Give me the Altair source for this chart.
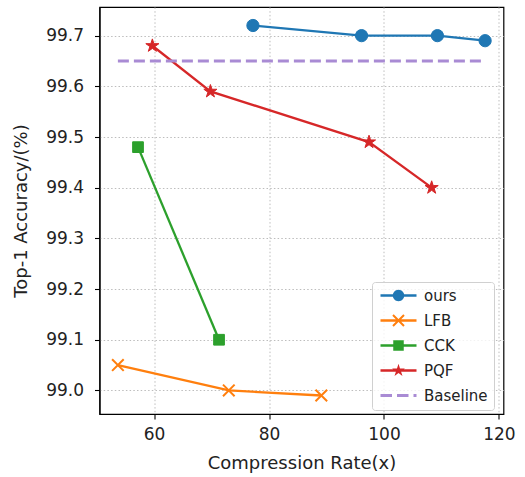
import altair as alt
import pandas as pd
import numpy as np

# ---------------- data ----------------
legend_order = ["ours", "LFB", "CCK", "PQF", "Baseline"]
colors = ["#1f77b4", "#ff7f0e", "#2ca02c", "#d62728", "#a98bd4"]

ours_x = [77.2, 96.1, 109.3, 117.6]
ours_y = [99.72, 99.70, 99.70, 99.69]
lfb_x = [53.7, 73.0, 89.1]
lfb_y = [99.05, 99.00, 98.99]
cck_x = [57.2, 71.3]
cck_y = [99.48, 99.10]
pqf_x = [59.7, 69.8, 97.4, 108.3]
pqf_y = [99.68, 99.59, 99.49, 99.40]
baseline_x = [53.7, 117.6]
baseline_y = [99.65, 99.65]

x_ticks = [60, 80, 100, 120]
y_ticks = [99.0, 99.1, 99.2, 99.3, 99.4, 99.5, 99.6, 99.7]
x_domain = [50.5, 120.8]
y_domain = [98.9535, 99.7565]

rows = []
for name, xs, ys in [("ours", ours_x, ours_y), ("LFB", lfb_x, lfb_y),
                     ("CCK", cck_x, cck_y), ("PQF", pqf_x, pqf_y),
                     ("Baseline", baseline_x, baseline_y)]:
    for i, (xv, yv) in enumerate(zip(xs, ys)):
        rows.append({"series": name, "x": xv, "y": yv, "i": i})
df = pd.DataFrame(rows)
col = dict(zip(legend_order, colors))

# ---------------- marker / legend glyph shapes ----------------
def poly(pts):
    pts = np.asarray(pts, dtype=float)
    x, y = pts[:, 0], pts[:, 1]
    area = 0.5 * np.sum(x * np.roll(y, -1) - np.roll(x, -1) * y)
    if area < 0:  # force clockwise on screen (y down)
        pts = pts[::-1]
    return "M" + "L".join(f"{px:.3f},{py:.3f}" for px, py in pts) + "Z"

def star_pts(cx=0.0, r=1.0):
    out = []
    for k in range(10):
        ang = -np.pi / 2 + k * np.pi / 5
        rad = r if k % 2 == 0 else r * 0.382
        out.append((cx + rad * np.cos(ang), rad * np.sin(ang)))
    return out

def circle_pts(cx=0.0, r=1.0, n=28):
    a = np.linspace(0, 2 * np.pi, n, endpoint=False)
    return list(zip(cx + r * np.cos(a), r * np.sin(a)))

def rect_pts(x0, x1, y0, y1):
    return [(x0, y0), (x1, y0), (x1, y1), (x0, y1)]

def bar_pts(cx, h, t, sign):
    d = np.array([1.0, sign]) / np.sqrt(2)
    n = np.array([-d[1], d[0]])
    L = h * np.sqrt(2)
    c = np.array([cx, 0.0])
    return [tuple(c - d * L + n * t), tuple(c + d * L + n * t),
            tuple(c + d * L - n * t), tuple(c - d * L - n * t)]

def x_path_stroke(h=1.0):
    return f"M{-h},{-h}L{h},{h}M{-h},{h}L{h},{-h}"

X_SHAPE = x_path_stroke()
STAR_SHAPE = poly(star_pts())

# legend glyphs: line + marker, all as filled polygons (1 unit = 5 px)
LW = 0.23
LINE = poly(rect_pts(-1, 6.2, -LW, LW))
MC = 2.6
BW = 0.29
glyphs = [
    LINE + poly(circle_pts(MC, 1.15)),
    LINE + poly(bar_pts(MC, 1.1, 0.2, 1)) + poly(bar_pts(MC, 1.1, 0.2, -1)),
    LINE + poly(rect_pts(MC - 1.05, MC + 1.05, -1.05, 1.05)),
    LINE + poly(star_pts(MC, 1.35)),
    poly(rect_pts(-1, 1.3, -BW, BW)) + poly(rect_pts(2.3, 4.6, -BW, BW))
    + poly(rect_pts(5.6, 6.2, -BW, BW)),
]

cscale = alt.Scale(domain=legend_order, range=colors)
xenc = alt.X("x:Q", scale=alt.Scale(domain=x_domain, nice=False, zero=False),
             axis=alt.Axis(values=x_ticks, title="Compression Rate(x)", format="d"))
yenc = alt.Y("y:Q", scale=alt.Scale(domain=y_domain, nice=False, zero=False),
             axis=alt.Axis(values=y_ticks, title="Top-1 Accuracy/(%)", format=".1f"))

legend = alt.Legend(
    title=None,
    orient="none",
    legendX=272.5,
    legendY=275,
    symbolSize=100,
    labelOffset=31,
    rowPadding=9,
    padding=6,
    strokeColor="#d0d0d0",
    fillColor="rgba(255,255,255,0.8)",
    cornerRadius=3,
    labelFont="DejaVu Sans",
    labelFontSize=15,
    labelColor="#222222",
    symbolStrokeWidth=0,
    symbolOpacity=1,
)

base = alt.Chart(df)
layers = []
markers = {"ours": ("circle", 150), "CCK": ("square", 115), "PQF": (STAR_SHAPE, 190)}
for name in ["ours", "LFB", "CCK", "PQF"]:
    sub = base.transform_filter(alt.datum.series == name)
    c = col[name]
    layers.append(sub.mark_line(strokeWidth=2.3, color=c).encode(x=xenc, y=yenc, order="i:Q"))
    if name == "LFB":
        layers.append(sub.mark_point(shape=X_SHAPE, size=135, filled=False, strokeWidth=2,
                                     opacity=1, color=c).encode(x=xenc, y=yenc))
    else:
        shp, sz = markers[name]
        layers.append(sub.mark_point(shape=shp, size=sz, filled=True, opacity=1,
                                     fill=c, stroke=c, strokeWidth=1).encode(x=xenc, y=yenc))

layers.append(base.transform_filter(alt.datum.series == "Baseline")
              .mark_line(strokeWidth=2.9, strokeDash=[11, 5], color=col["Baseline"])
              .encode(x=xenc, y=yenc))

# legend-only layer (no rows pass the filter); its scales carry the legend
layers.append(base.transform_filter("datum.x < -1000")
              .mark_point(filled=True, opacity=1, strokeWidth=0)
              .encode(x=xenc, y=yenc,
                      color=alt.Color("series:N", scale=cscale, legend=legend),
                      shape=alt.Shape("series:N",
                                      scale=alt.Scale(domain=legend_order, range=glyphs),
                                      legend=legend)))

chart = alt.layer(*layers).properties(
    width=404, height=407,
    autosize=alt.AutoSizeParams(type="none"),
    padding={"left": 99.5, "top": 7, "right": 21.5, "bottom": 63},
    background="white",
).configure_view(
    stroke="#000000", strokeWidth=1.2
).configure_axis(
    labelFont="DejaVu Sans", titleFont="DejaVu Sans",
    labelFontSize=17, titleFontSize=18,
    labelColor="#222222", titleColor="#222222",
    titleFontWeight="normal",
    domainColor="#000000", domainWidth=1.2,
    tickColor="#000000", tickSize=5, tickWidth=1.1,
    grid=True, gridColor="#bdbdbd", gridDash=[1.5, 2.2], gridWidth=1,
).configure_axisX(
    labelPadding=7, titlePadding=12,
).configure_axisY(
    labelPadding=11, titlePadding=15,
)

chart.save("out.html", embed_options={"renderer": "svg", "actions": False})
